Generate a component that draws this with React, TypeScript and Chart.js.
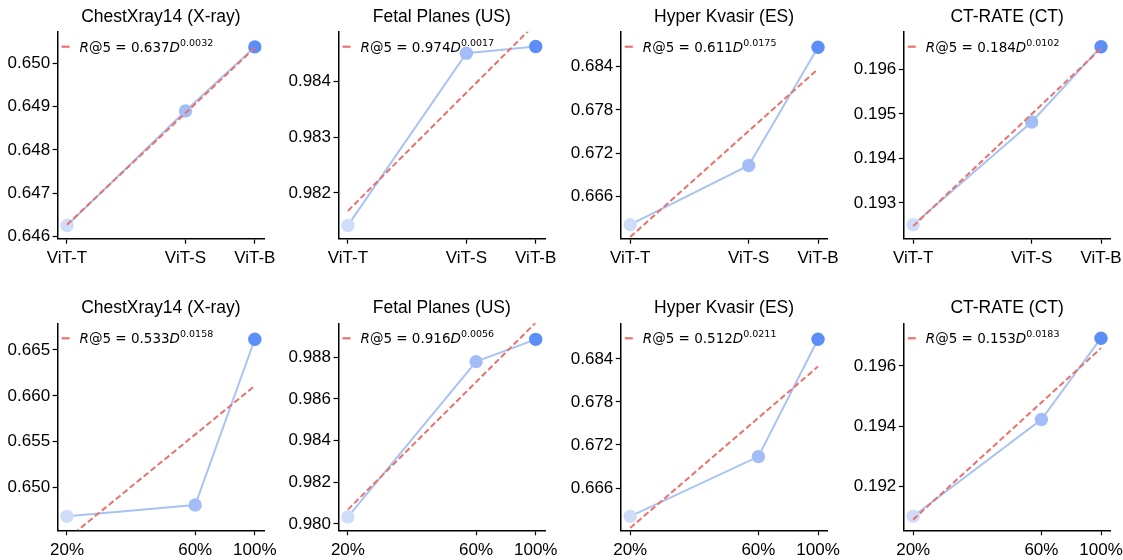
import React, { useEffect, useRef } from "react";
import { Chart, registerables } from "chart.js";

Chart.register(...registerables);

// ---------- data ----------
const titles = ["ChestXray14 (X-ray)", "Fetal Planes (US)", "Hyper Kvasir (ES)", "CT-RATE (CT)"];

const modelX = [1, 2, 3];
const modelLabels = ["ViT-T", "ViT-S", "ViT-B"];
const dataX = [20, 60, 100];
const dataLabels = ["20%", "60%", "100%"];

// top row: model size scaling (R@5)
const modelChest = [0.64625, 0.6489, 0.65038];
const modelFetal = [0.98142, 0.9845, 0.98462];
const modelKvasir = [0.66208, 0.67029, 0.68668];
const modelCT = [0.19251, 0.19482, 0.19651];

// top row: power-law fit values at the first and last x
const modelChestFit = [0.64627, 0.65036];
const modelFetalFit = [0.98168, 0.98503];
const modelKvasirFit = [0.66037, 0.68368];
const modelCTFit = [0.19248, 0.19647];

const modelCoef = ["0.637", "0.974", "0.611", "0.184"];
const modelExp = ["0.0032", "0.0017", "0.0175", "0.0102"];

// bottom row: data size scaling (R@5)
const dataChest = [0.64688, 0.64812, 0.66616];
const dataFetal = [0.98034, 0.98779, 0.98886];
const dataKvasir = [0.66206, 0.67038, 0.68674];
const dataCT = [0.19101, 0.19422, 0.19692];

const dataChestFit = [0.64441, 0.66109];
const dataFetalFit = [0.98069, 0.98966];
const dataKvasirFit = [0.66043, 0.68293];
const dataCTFit = [0.1909, 0.19659];

const dataCoef = ["0.533", "0.916", "0.512", "0.153"];
const dataExp = ["0.0158", "0.0056", "0.0211", "0.0183"];

// y-axis tick labels and limits
const modelChestTicks = [0.646, 0.647, 0.648, 0.649, 0.65];
const modelFetalTicks = [0.982, 0.983, 0.984];
const modelKvasirTicks = [0.666, 0.672, 0.678, 0.684];
const modelCTTicks = [0.193, 0.194, 0.195, 0.196];
const dataChestTicks = [0.65, 0.655, 0.66, 0.665];
const dataFetalTicks = [0.98, 0.982, 0.984, 0.986, 0.988];
const dataKvasirTicks = [0.666, 0.672, 0.678, 0.684];
const dataCTTicks = [0.192, 0.194, 0.196];

const modelChestLim = [0.645946, 0.650731];
const modelFetalLim = [0.981182, 0.984884];
const modelKvasirLim = [0.660138, 0.688846];
const modelCTLim = [0.192197, 0.196848];
const dataChestLim = [0.645362, 0.667899];
const dataFetalLim = [0.979697, 0.989629];
const dataKvasirLim = [0.660107, 0.688965];
const dataCTLim = [0.190541, 0.197414];

// ---------- style / layout ----------
const RED = "#e8726d";
const LINE_BLUE = "#a9c3f5";
const POINT_COLORS = ["#d0ddf8", "#a3bef6", "#5b8ff7"];
const SANS = '"Liberation Sans", Arial, Helvetica, sans-serif';
const MATH = '"DejaVu Sans", sans-serif';

const CW = 282;
const CH = 280;
const YW = 55;
const COL_L = [57.6, 338.5, 620.8, 903.8];
const ROW_T = [31.7, 323.3];
const AW = 206.6;
const AH = 207;

type PanelDef = {
  row: number;
  col: number;
  title: string;
  xs: number[];
  xLabels: string[];
  ys: number[];
  fit: number[];
  coef: string;
  exp: string;
  yTicks: number[];
  yLim: number[];
};

const rows: [number[], string[], number[][], number[][], string[], string[], number[][], number[][]][] = [
  [modelX, modelLabels, [modelChest, modelFetal, modelKvasir, modelCT], [modelChestFit, modelFetalFit, modelKvasirFit, modelCTFit], modelCoef, modelExp,
    [modelChestTicks, modelFetalTicks, modelKvasirTicks, modelCTTicks], [modelChestLim, modelFetalLim, modelKvasirLim, modelCTLim]],
  [dataX, dataLabels, [dataChest, dataFetal, dataKvasir, dataCT], [dataChestFit, dataFetalFit, dataKvasirFit, dataCTFit], dataCoef, dataExp,
    [dataChestTicks, dataFetalTicks, dataKvasirTicks, dataCTTicks], [dataChestLim, dataFetalLim, dataKvasirLim, dataCTLim]],
];

const panels: PanelDef[] = [];
rows.forEach(([xs, xLabels, ysAll, fitAll, coefs, exps, ticksAll, limAll], r) => {
  for (let c = 0; c < 4; c++) {
    panels.push({
      row: r, col: c, title: titles[c], xs, xLabels,
      ys: ysAll[c], fit: fitAll[c], coef: coefs[c], exp: exps[c],
      yTicks: ticksAll[c], yLim: limAll[c],
    });
  }
});

function Panel({ p }: { p: PanelDef }) {
  const ref = useRef<HTMLCanvasElement | null>(null);
  const canvasLeft = Math.floor(COL_L[p.col]) - YW;
  const canvasTop = p.row * CH;
  const yAxisW = COL_L[p.col] - canvasLeft;
  const padTop = ROW_T[p.row] - canvasTop;
  const xAxisH = CH - padTop - AH;
  const padRight = CW - yAxisW - AW;

  useEffect(() => {
    if (!ref.current) return;
    const x0 = p.xs[0];
    const x1 = p.xs[p.xs.length - 1];
    const span = x1 / x0;
    const xMin = x0 / Math.pow(span, 0.05);
    const xMax = x1 * Math.pow(span, 0.05);

    const overlay = {
      id: "titleLegend",
      afterDraw(chart: any) {
        const { ctx, chartArea: a } = chart;
        ctx.save();
        ctx.fillStyle = "#000";
        ctx.font = `17.5px ${SANS}`;
        ctx.textAlign = "center";
        ctx.textBaseline = "middle";
        ctx.fillText(p.title, (a.left + a.right) / 2, a.top - 15);

        const ly = a.top + 15;
        ctx.strokeStyle = RED;
        ctx.lineWidth = 2.2;
        ctx.beginPath();
        ctx.moveTo(a.left + 4, ly);
        ctx.lineTo(a.left + 12, ly);
        ctx.stroke();

        ctx.textAlign = "left";
        ctx.textBaseline = "alphabetic";
        let x = a.left + 22;
        const base = ly + 5;
        const seg = (t: string, font: string, dy = 0) => {
          ctx.font = font;
          ctx.fillText(t, x, base + dy);
          x += ctx.measureText(t).width;
        };
        seg("R", `italic 13.5px ${MATH}`);
        seg("@5", `13.5px ${MATH}`);
        seg(" = ", `13.5px ${MATH}`);
        seg(p.coef, `13.5px ${MATH}`);
        seg("D", `italic 13.5px ${MATH}`);
        seg(p.exp, `9.5px ${MATH}`, -6);
        ctx.restore();
      },
    };

    const axisCommon = {
      grid: { display: true, drawOnChartArea: false, drawTicks: true, tickLength: 5, tickColor: "#000", tickWidth: 1.2 },
      border: { display: true, color: "#000", width: 1.5 },
    };

    const chart = new Chart(ref.current, {
      type: "line",
      data: {
        datasets: [
          {
            data: [
              { x: x0, y: p.fit[0] },
              { x: x1, y: p.fit[1] },
            ],
            borderColor: RED,
            borderWidth: 2,
            borderDash: [6, 3],
            pointRadius: 0,
            fill: false,
            tension: 0,
            clip: 0,
          },
          {
            data: p.xs.map((x, i) => ({ x, y: p.ys[i] })),
            borderColor: LINE_BLUE,
            borderWidth: 2,
            pointRadius: 6.7,
            pointBackgroundColor: POINT_COLORS,
            pointBorderWidth: 0,
            fill: false,
            tension: 0,
            clip: false,
          },
        ],
      },
      options: {
        animation: false,
        responsive: false,
        devicePixelRatio: 1,
        events: [],
        layout: { padding: { top: padTop, right: padRight, left: 0, bottom: 0 } },
        plugins: { legend: { display: false }, title: { display: false }, tooltip: { enabled: false } },
        scales: {
          x: {
            type: "logarithmic",
            position: "bottom",
            min: xMin,
            max: xMax,
            afterFit: (s: any) => { s.height = xAxisH; },
            afterBuildTicks: (s: any) => { s.ticks = p.xs.map((v) => ({ value: v })); },
            ticks: {
              autoSkip: false, maxRotation: 0, minRotation: 0, padding: 4.5, color: "#000",
              font: { family: SANS, size: 17 },
              callback: (_v: any, i: number) => p.xLabels[i],
            },
            ...axisCommon,
          },
          y: {
            type: "linear",
            min: p.yLim[0],
            max: p.yLim[1],
            afterFit: (s: any) => { s.width = yAxisW; },
            afterBuildTicks: (s: any) => { s.ticks = p.yTicks.map((v) => ({ value: v })); },
            ticks: {
              autoSkip: false, padding: 2.5, color: "#000",
              font: { family: SANS, size: 17 },
              callback: (v: any) => Number(v).toFixed(3),
            },
            ...axisCommon,
          },
        },
      } as any,
      plugins: [overlay],
    });
    return () => chart.destroy();
  }, []);

  return (
    <canvas
      ref={ref}
      width={CW}
      height={CH}
      style={{ position: "absolute", left: canvasLeft, top: canvasTop, width: CW, height: CH }}
    />
  );
}

export default function App() {
  return (
    <div style={{ position: "absolute", left: 0, top: 0, width: 1123, height: 560, background: "#fff", overflow: "hidden" }}>
      {panels.map((p, i) => (
        <Panel key={i} p={p} />
      ))}
    </div>
  );
}
